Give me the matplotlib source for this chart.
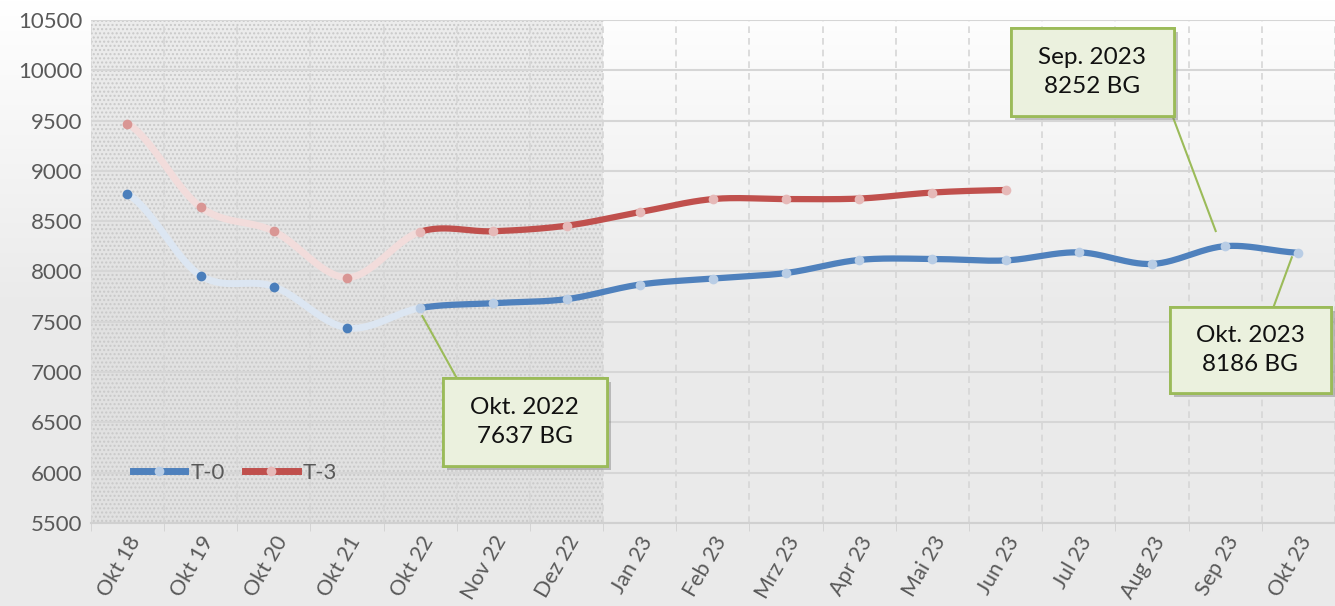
import numpy as np
import matplotlib.pyplot as plt
import matplotlib.patheffects as pe
from matplotlib.patches import Rectangle
from matplotlib.lines import Line2D

plt.rcParams['font.family'] = ['Lato', 'DejaVu Sans']

months = ['Okt 18', 'Okt 19', 'Okt 20', 'Okt 21', 'Okt 22', 'Nov 22', 'Dez 22',
          'Jan 23', 'Feb 23', 'Mrz 23', 'Apr 23', 'Mai 23', 'Jun 23', 'Jul 23',
          'Aug 23', 'Sep 23', 'Okt 23']
t0 = [8770, 7960, 7850, 7440, 7637, 7685, 7725, 7870, 7930, 7985, 8115, 8125,
      8110, 8190, 8075, 8252, 8186]
t3 = [9470, 8640, 8400, 7940, 8395, 8400, 8455, 8590, 8720, 8720, 8725, 8785, 8810]

# callouts: (label, index of point)
notes = [('Okt. 2022\n7637 BG', 4), ('Sep. 2023\n8252 BG', 15), ('Okt. 2023\n8186 BG', 16)]


def smooth(ys, n=30):
    # catmull-rom like excel "smoothed line"
    p = np.array(ys, dtype=float)
    xs_out, ys_out = [], []
    for i in range(len(p) - 1):
        p0 = p[i - 1] if i > 0 else p[i]
        p1, p2 = p[i], p[i + 1]
        p3 = p[i + 2] if i + 2 < len(p) else p[i + 1]
        t = np.linspace(0, 1, n, endpoint=False)
        y = 0.5 * (2 * p1 + (-p0 + p2) * t + (2 * p0 - 5 * p1 + 4 * p2 - p3) * t ** 2
                   + (-p0 + 3 * p1 - 3 * p2 + p3) * t ** 3)
        xs_out.extend(i + t)
        ys_out.extend(y)
    xs_out.append(len(p) - 1)
    ys_out.append(p[-1])
    return np.array(xs_out), np.array(ys_out)


fig = plt.figure(figsize=(13.35, 6.06), dpi=100)

# background gradient
bg = fig.add_axes([0, 0, 1, 1], zorder=-10)
grad = np.linspace(0, 1, 256).reshape(-1, 1)
vals = np.clip(1.0 - 0.08 * np.minimum(grad * 2.0, 1.0), 0, 1)
bg.imshow(np.dstack([vals, vals, vals]), aspect='auto', extent=[0, 1, 0, 1])
bg.axis('off')

ax = fig.add_axes([0.068, 0.137, 0.932, 0.830])
ax.set_facecolor('none')

ax.axvspan(-0.5, 6.5, facecolor='#d8d8d8', alpha=0.45, zorder=0)
ax.axvspan(-0.5, 6.5, facecolor='none', edgecolor='#c9c9c9', hatch='....', lw=0, zorder=0)

x = np.arange(len(months))
series = [
    (t0, '#4f81bd', '#dce6f2', '#4a7ebb', '#b9cde5'),
    (t3, '#c0504d', '#f2dcdb', '#d99694', '#e6b9b8'),
]
for ys, col, faded, mk_old, mk_new in series:
    sx, sy = smooth(ys)
    m = sx <= 4
    ax.plot(sx[m], sy[m], color=faded, lw=5, solid_capstyle='round', zorder=2)
    ax.plot(sx[sx >= 4], sy[sx >= 4], color=col, lw=4.5, solid_capstyle='round', zorder=2)
    ax.plot(x[:4], ys[:4], 'o', color=mk_old, ms=7, mec='none', zorder=3)
    ax.plot(x[4:len(ys)], ys[4:], 'o', color=mk_new, ms=7, mec='none', zorder=3)

ax.set_xlim(-0.5, 16.5)
ax.set_ylim(5500, 10500)
ax.set_yticks(np.arange(5500, 10501, 500))
ax.set_xticks(x)
ax.set_xticklabels(months, rotation=60, ha='right', rotation_mode='anchor')
ax.set_xticks(np.arange(-0.5, 17, 1), minor=True)
ax.tick_params(axis='x', which='major', length=0, pad=7, labelsize=15.5, labelcolor='#595959')
ax.tick_params(axis='x', which='minor', length=6, color='#d0d0d0')
ax.tick_params(axis='y', length=0, pad=6, labelsize=16, labelcolor='#595959')
ax.grid(axis='y', color='#d6d6d6', lw=1.5, zorder=1)
ax.grid(axis='x', which='minor', color='#d6d6d6', lw=1.2, ls=(0, (4, 3)), zorder=1)
ax.set_axisbelow(True)
for s in ['top', 'right', 'left']:
    ax.spines[s].set_visible(False)
ax.spines['bottom'].set_color('#d0d0d0')
ax.spines['bottom'].set_linewidth(1.5)

# legend
handles = [Line2D([], [], color='#4f81bd', lw=5, marker='o', mfc='#b9cde5', mec='none', ms=7),
           Line2D([], [], color='#c0504d', lw=5, marker='o', mfc='#e6b9b8', mec='none', ms=7)]
leg = ax.legend(handles, ['T-0', 'T-3'], loc='center left', bbox_to_anchor=(0.018, 0.1),
                ncol=2, frameon=False, handlelength=2.35, columnspacing=0.9,
                handletextpad=0.25, fontsize=16)
for t in leg.get_texts():
    t.set_color('#595959')

# callout boxes: (x0, x1, y0, y1), line start, line end offset
boxes = [
    ((4.31, 6.55, 6067, 6941), (4.50, 6941), (0.03, -80)),
    ((12.07, 14.30, 9546, 10420), (14.28, 9546), (-0.13, 150)),
    ((14.24, 16.44, 6792, 7647), (15.66, 7647), (-0.09, -45)),
]
shadow = [pe.withSimplePatchShadow(offset=(3, -3), shadow_rgbFace='#7f7f7f', alpha=0.45), pe.Normal()]
for (label, idx), (b, start, off) in zip(notes, boxes):
    end = (idx + off[0], t0[idx] + off[1])
    ax.plot([start[0], end[0]], [start[1], end[1]], color='#9bbb59', lw=1.5, zorder=4)
    r = Rectangle((b[0], b[2]), b[1] - b[0], b[3] - b[2], facecolor='#ebf1de',
                  edgecolor='#9bbb59', lw=2, zorder=5, path_effects=shadow)
    ax.add_patch(r)
    ax.text((b[0] + b[1]) / 2, (b[2] + b[3]) / 2, label, ha='center', va='center',
            fontsize=17.5, linespacing=1.45, color='#111111', zorder=6)

fig.savefig('out.png', dpi=100)
